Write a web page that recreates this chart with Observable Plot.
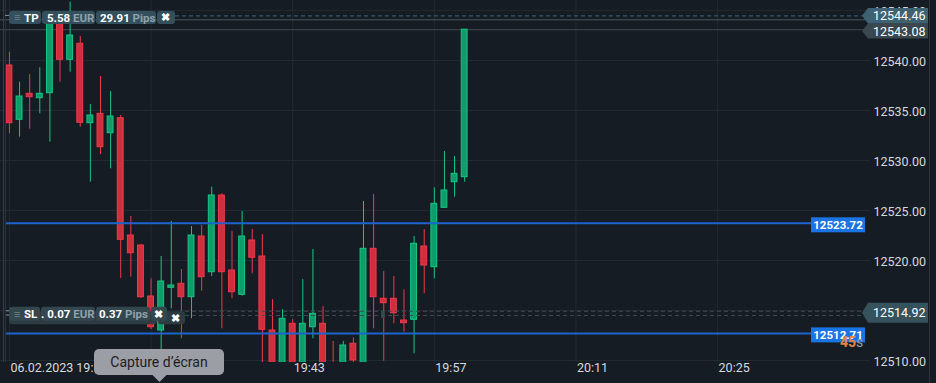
<!DOCTYPE html>
<html><head><meta charset="utf-8">
<script src="https://cdn.jsdelivr.net/npm/d3@7"></script>
<script src="https://cdn.jsdelivr.net/npm/@observablehq/plot@0.6"></script>
<style>
html,body{margin:0;padding:0;background:#161c23;}
#chart{position:relative;width:936px;height:383px;overflow:hidden;}
svg{display:block;}
</style></head><body><div id="chart"></div>
<script>
// ---- data ----
const times = ["19:15","19:16","19:17","19:18","19:19","19:20","19:21","19:22","19:23","19:24",
  "19:25","19:26","19:27","19:28","19:29","19:30","19:31","19:32","19:33","19:34",
  "19:35","19:36","19:37","19:38","19:39","19:40","19:41","19:42","19:43","19:44",
  "19:45","19:46","19:47","19:48","19:49","19:50","19:51","19:52","19:53","19:54",
  "19:55","19:56","19:57","19:58","19:59","20:00"];
const opens = [12539.5,12534.07,12536.67,12536.23,12536.73,12544.0,12540.07,12541.67,12533.73,12534.67,
  12532.73,12534.23,12522.5,12521.5,12516.4,12513.0,12517.27,12517.67,12516.33,12522.4,
  12518.83,12526.5,12519.0,12516.57,12522.0,12520.4,12513.0,12509.5,12513.67,12509.5,
  12513.33,12513.67,12509.6,12509.5,12511.67,12509.5,12521.17,12516.17,12516.17,12514.0,
  12514.07,12521.4,12519.33,12525.27,12527.83,12528.33];
const highs = [12540.83,12537.83,12538.6,12539.27,12544.6,12544.5,12545.83,12542.4,12535.6,12538.4,
  12536.9,12534.5,12524.4,12521.6,12518.17,12520.4,12523.9,12519.1,12523.4,12523.5,
  12527.33,12526.67,12522.9,12524.9,12523.1,12522.6,12516.1,12515.07,12514.1,12518.1,
  12521.1,12515.4,12511.9,12511.9,12512.27,12525.9,12526.6,12518.9,12518.4,12517.07,
  12522.4,12523.1,12527.27,12530.9,12530.4,12543.1];
const lows = [12532.67,12532.33,12533.13,12534.67,12531.83,12537.83,12538.83,12533.33,12527.83,12530.6,
  12529.17,12518.2,12518.33,12516.2,12513.1,12510.8,12515.17,12512.17,12514.17,12516.93,
  12518.4,12513.17,12516.17,12516.43,12518.67,12509.5,12509.0,12509.0,12509.0,12509.0,
  12512.17,12509.0,12509.0,12509.0,12509.7,12509.0,12513.17,12509.93,12513.67,12512.83,
  12510.67,12516.67,12518.17,12525.2,12526.33,12527.83];
const closes = [12533.73,12536.4,12536.33,12536.67,12544.0,12540.07,12542.5,12533.77,12534.5,12531.33,
  12534.4,12522.07,12520.73,12516.33,12513.33,12517.9,12517.5,12516.33,12522.5,12518.33,
  12526.5,12518.83,12516.83,12522.4,12520.27,12513.07,12509.5,12514.17,12509.5,12513.67,
  12514.67,12509.5,12509.2,12511.5,12510.0,12521.17,12516.33,12515.73,12514.73,12513.73,
  12521.67,12519.5,12525.67,12527.0,12528.67,12543.08];

const yTicks = [12510,12515,12520,12525,12530,12535,12540,12545];
const xTickTimes = ["19:15","19:29","19:43","19:57","20:11","20:25"];
const xTickLabels = ["06.02.2023 19:15","19:29","19:43","19:57","20:11","20:25"];
const xDomainTimes = ["19:14:07","20:40:07"];
const yDomain = [12509.8, 12546.0];

const tpLevel = 12544.46, tpEntryLevel = 12544.07, lastPrice = 12543.08;
const slLevels = [12514.92, 12514.5];
const orderLevels = [12523.72, 12512.71];
const countdown = ["45", "s"];
const tpChip = {tag: "TP", amount: "5.58", cur: "EUR", pips: "29.91", unit: "Pips"};
const slChip = {tag: "SL", amount: "0.07", cur: "EUR", pips: "0.37", unit: "Pips"};
const tooltipText = "Capture d\u2019\u00e9cran";

// ---- build ----
const toDate = t => { const [h, m, s] = t.split(":").map(Number); return new Date(Date.UTC(2023, 1, 6, h, m, s || 0)); };
const candles = times.map((t, i) => ({date: toDate(t), open: opens[i], high: highs[i], low: lows[i], close: closes[i]}));
const xTicks = xTickTimes.map(toDate);
const labelMap = new Map(xTicks.map((d, i) => [+d, xTickLabels[i]]));

const GREEN_F = "#0e9c6b", GREEN_S = "#16c784", RED_F = "#cf2f3d", RED_S = "#f2394a";
const up = d => d.close >= d.open;
const HALF = 0.29 * 60000;

const plot = Plot.plot({
  width: 936, height: 383,
  marginLeft: 0, marginRight: 66, marginTop: 0, marginBottom: 21,
  style: {background: "#161c23", color: "#d1d4dc", fontFamily: "Roboto, sans-serif", fontSize: "12.5px"},
  x: {type: "utc", domain: xDomainTimes.map(toDate)},
  y: {domain: yDomain},
  color: {type: "identity"},
  marks: [
    Plot.gridY(yTicks, {stroke: "#222a31", strokeOpacity: 1}),
    Plot.gridX(xTicks, {stroke: "#222a31", strokeOpacity: 1}),
    Plot.ruleY([tpEntryLevel], {stroke: "#4a555c", strokeWidth: 1}),
    Plot.ruleY([lastPrice], {stroke: "#3f4b52", strokeWidth: 1}),
    Plot.ruleX(candles, {x: "date", y1: "low", y2: "high", stroke: d => up(d) ? GREEN_S : RED_S, strokeWidth: 1, clip: true}),
    Plot.rect(candles, {x1: d => new Date(+d.date - HALF), x2: d => new Date(+d.date + HALF),
      y1: "open", y2: "close", fill: d => up(d) ? GREEN_F : RED_F, stroke: d => up(d) ? GREEN_S : RED_S, strokeWidth: 1, clip: true}),
    Plot.ruleY([tpLevel], {stroke: "#3d6478", strokeDasharray: "4,3", strokeWidth: 1, insetLeft: 175, insetRight: 8}),
    Plot.ruleY(slLevels, {stroke: "#3f4a50", strokeDasharray: "4,3", strokeWidth: 1, insetLeft: 185, insetRight: 8}),
    Plot.ruleY(orderLevels, {stroke: "#1d63d0", strokeWidth: 2, insetLeft: 5, insetRight: 55}),
    Plot.axisY(yTicks, {anchor: "right", tickSize: 0, tickPadding: 3, tickFormat: d => d.toFixed(2), fill: "#d6d9de", fontSize: 12.5, dy: 1}),
    Plot.axisX(xTicks, {anchor: "bottom", tickSize: 0, tickPadding: 1, textAnchor: "start", dx: 1, tickFormat: d => labelMap.get(+d), fill: "#d6d9de", fontSize: 12.5})
  ]
});
document.getElementById("chart").appendChild(plot);

const sy = plot.scale("y"), sx = plot.scale("x");
const svg = d3.select(plot);
const frameR = 936 - 66;
const g = svg.append("g").attr("font-family", "Roboto, sans-serif").attr("text-anchor", "start");

// left edge lines and handles
g.append("line").attr("x1", 3.5).attr("x2", 3.5).attr("y1", 0).attr("y2", 362).attr("stroke", "#353e45");
g.append("line").attr("x1", 5.5).attr("x2", 5.5).attr("y1", 0).attr("y2", 362).attr("stroke", "#2c343a");
g.append("line").attr("x1", 929.5).attr("x2", 929.5).attr("y1", 0).attr("y2", 383).attr("stroke", "#2c3339");

// position marker
g.append("rect").attr("x", sx.apply(toDate("19:52")) - 2).attr("y", sy.apply(slLevels[1]) - 4).attr("width", 3.5).attr("height", 7).attr("fill", "#3b4a52");

// chips: each text entry = [x, [[string, fill, weight], ...], size]
function chip(y0, h, segs, color, texts) {
  const cg = g.append("g");
  segs.forEach(([a, b]) => cg.append("rect").attr("x", a).attr("y", y0).attr("width", b - a).attr("height", h).attr("rx", 3).attr("fill", color));
  texts.forEach(([x, parts, size]) => {
    const t = cg.append("text").attr("x", x).attr("y", y0 + h / 2).attr("dy", "0.36em").attr("font-size", size || 11.5).attr("xml:space", "preserve");
    parts.forEach(([s, fill, weight]) => t.append("tspan").attr("fill", fill).attr("font-weight", weight || "bold").text(s));
  });
  return cg;
}
const W = "#ffffff", G = "#8fa1aa";
const tpY = sy.apply(tpLevel);
chip(tpY - 4.5, 13, [[9, 41], [42, 95], [96, 156], [157, 175]], "#34505c", [
  [14, [["\u2261", "#6d8089", "normal"]], 11], [24, [[tpChip.tag, W]]],
  [47, [[tpChip.amount + " ", W], [tpChip.cur, G]]],
  [100, [[tpChip.pips + " ", W], [tpChip.unit, G]]],
  [161, [["\u2716", W]], 11]
]);
const slY = sy.apply(slLevels[0]);
chip(slY + 0.5, 13, [[9, 157], [158, 185]], "#2d3c43", [[171, [["\u2716", W]], 11]]);
chip(slY - 4, 14, [[9, 40], [41, 95], [96, 150], [151, 167]], "#34474f", [
  [14, [["\u2261", "#6d8089", "normal"]], 11], [24, [[slChip.tag, W]]],
  [41, [[". " + slChip.amount + " ", W], [slChip.cur, G]]],
  [99, [[slChip.pips + " ", W], [slChip.unit, G]]],
  [154, [["\u2716", W]], 11]
]);
g.append("line").attr("x1", 5).attr("x2", 9).attr("y1", tpY).attr("y2", tpY).attr("stroke", "#8a949a");
g.append("line").attr("x1", 6).attr("x2", 9).attr("y1", sy.apply(slLevels[0])).attr("y2", sy.apply(slLevels[0])).attr("stroke", "#8a949a");
g.append("line").attr("x1", 6).attr("x2", 9).attr("y1", sy.apply(slLevels[1])).attr("y2", sy.apply(slLevels[1])).attr("stroke", "#8a949a");

// right price tags
function tag(v, cy, h, color, textColor) {
  const x0 = frameR - 8, x1 = frameR - 2, x2 = 928;
  g.append("path").attr("d", `M${x0},${cy} L${x1},${cy - h / 2} L${x2},${cy - h / 2} L${x2},${cy + h / 2} L${x1},${cy + h / 2} Z`).attr("fill", color);
  g.append("text").attr("x", frameR + 3).attr("y", cy).attr("dy", "0.36em").attr("fill", textColor).attr("font-size", 12.5).text(v.toFixed(2));
}
tag(lastPrice, sy.apply(lastPrice) + 1.8, 15, "#3a474f", "#ffffff");
tag(tpLevel, sy.apply(tpLevel) + 0.3, 15.5, "#3e6272", "#ffffff");
tag(slLevels[0], sy.apply(slLevels[0]) + 2, 20, "#35525d", "#ffffff");

// blue order labels
orderLevels.forEach(v => {
  const cy = sy.apply(v) + 2;
  g.append("rect").attr("x", frameR - 59).attr("y", cy - 7.5).attr("width", 54).attr("height", 15).attr("fill", "#1b74e4");
  g.append("text").attr("x", frameR - 32).attr("y", cy).attr("dy", "0.36em").attr("text-anchor", "middle")
    .attr("fill", "#ffffff").attr("font-size", 11.5).attr("font-weight", "bold").text(v.toFixed(2));
});

// countdown
const cd = g.append("text").attr("x", frameR - 30).attr("y", sy.apply(orderLevels[1]) + 14).attr("font-size", 14).attr("font-weight", "bold");
cd.append("tspan").attr("fill", "#e8843c").text(countdown[0]);
cd.append("tspan").attr("fill", "#9aa0a6").attr("font-weight", "normal").text(countdown[1]);

// tooltip
const tt = g.append("g");
tt.append("rect").attr("x", 94).attr("y", 349).attr("width", 130).attr("height", 26).attr("rx", 5).attr("fill", "#9c9ea6");
tt.append("path").attr("d", "M152,374.5 L159.5,382 L167,374.5 Z").attr("fill", "#9c9ea6");
tt.append("text").attr("x", 159).attr("y", 362).attr("dy", "0.36em").attr("text-anchor", "middle")
  .attr("fill", "#1c1d21").attr("font-size", 14).text(tooltipText);
</script></body></html>
